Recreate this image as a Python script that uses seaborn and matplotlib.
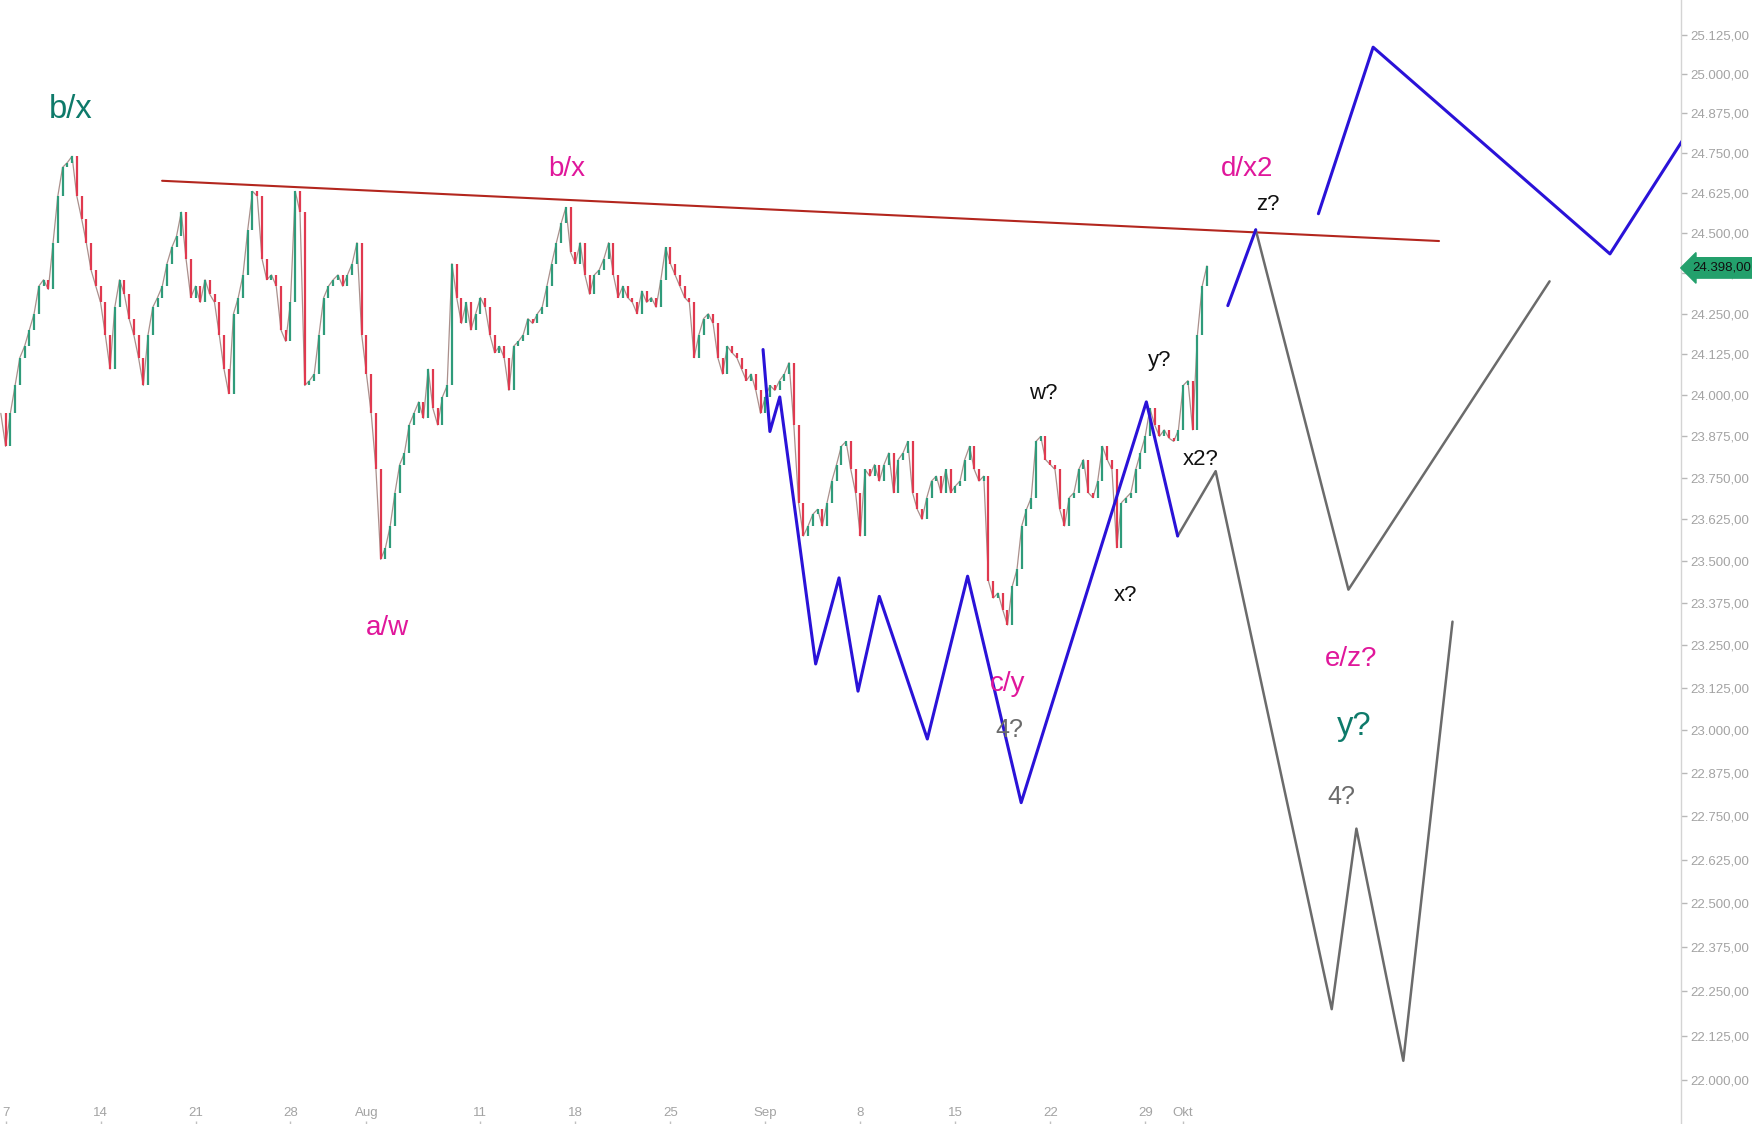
import numpy as np
import pandas as pd
import matplotlib
matplotlib.use("Agg")
import matplotlib.pyplot as plt
import matplotlib.transforms as mtransforms
from matplotlib.ticker import FixedLocator, FuncFormatter, NullLocator
import seaborn as sns

# ---------------- data ----------------
# closes of the intraday bars, 4 bars per trading day, first bar at day -0.25 (day 0 = Jul 7)
close_prices = [
    23945,
    23845, 23945, 24030, 24115,   # Jul 7
    24150, 24200, 24250, 24335,
    24355, 24325, 24470, 24615,
    24705, 24720, 24740, 24615,
    24545, 24470, 24385, 24335,
    24285, 24185, 24080, 24270,   # Jul 14
    24355, 24310, 24235, 24185,
    24115, 24030, 24185, 24270,
    24300, 24335, 24405, 24455,
    24490, 24565, 24420, 24300,
    24335, 24285, 24355, 24310,   # Jul 21
    24285, 24185, 24080, 24005,
    24250, 24300, 24370, 24510,
    24630, 24615, 24420, 24355,
    24370, 24335, 24200, 24165,
    24285, 24630, 24565, 24030,   # Jul 28
    24045, 24065, 24185, 24300,
    24335, 24355, 24370, 24335,
    24370, 24405, 24470, 24185,
    24065, 23945, 23775, 23505,   # Aug 1
    23540, 23605, 23705, 23790,
    23825, 23910, 23945, 23980,
    23930, 24080, 23960, 23910,
    23995, 24030, 24405, 24300,
    24220, 24285, 24200, 24250,
    24300, 24270, 24185, 24130,   # Aug 11
    24150, 24115, 24015, 24150,
    24165, 24185, 24235, 24220,
    24250, 24270, 24335, 24405,
    24470, 24530, 24580, 24440,
    24405, 24470, 24370, 24310,   # Aug 18
    24370, 24385, 24420, 24470,
    24370, 24300, 24335, 24300,
    24285, 24250, 24320, 24285,
    24300, 24270, 24355, 24455,
    24405, 24370, 24335, 24300,   # Aug 25
    24285, 24115, 24185, 24235,
    24250, 24220, 24115, 24065,
    24150, 24130, 24115, 24080,
    24045, 24065, 24015, 23945,
    23995, 24030, 24015, 24045,   # Sep 1
    24065, 24100, 23910, 23675,
    23575, 23605, 23640, 23655,
    23605, 23675, 23740, 23790,
    23845, 23860, 23775, 23705,
    23575, 23775, 23755, 23790,   # Sep 8
    23740, 23790, 23825, 23705,
    23805, 23825, 23860, 23705,
    23655, 23625, 23690, 23740,
    23755, 23705, 23775, 23705,
    23725, 23740, 23805, 23845,   # Sep 15
    23775, 23740, 23755, 23440,
    23390, 23405, 23355, 23310,
    23425, 23475, 23605, 23655,
    23690, 23860, 23875, 23805,
    23790, 23775, 23655, 23605,   # Sep 22
    23690, 23705, 23775, 23805,
    23705, 23690, 23740, 23845,
    23805, 23775, 23540, 23675,
    23690, 23705, 23775, 23825,
    23875, 23960, 23910, 23875,   # Sep 29
    23895, 23870, 23860, 23895,
    24030, 24045, 23895, 24185,   # Oct 1
    24335, 24398,
]
bars_per_day = 4
first_bar_day = -0.25
last_price = 24398

date_tick_days = [0, 5, 10, 15, 19, 25, 30, 35, 40, 45, 50, 55, 60, 62]
date_tick_labels = ["7", "14", "21", "28", "Aug", "11", "18", "25", "Sep",
                    "8", "15", "22", "29", "Okt"]
price_ticks = [22000 + 125 * i for i in range(27)]

# drawings (trading-day index, price)
trend_days = [8.24, 75.47]
trend_prices = [24663, 24475]

wave1_days = [39.88, 40.24, 40.76, 42.65, 43.88, 44.88, 46.0, 48.53, 50.65, 53.47, 60.06, 61.71]
wave1_prices = [24140, 23890, 23995, 23195, 23450, 23115, 23395, 22975, 23455, 22790, 23980, 23575]

wave2_days = [64.35, 65.82]
wave2_prices = [24275, 24510]

wave3_days = [69.12, 72.0, 84.47, 88.4]
wave3_prices = [24560, 25085, 24435, 24800]

grey1_days = [65.82, 70.7, 81.29]
grey1_prices = [24510, 23415, 24350]

grey2_days = [61.71, 63.71, 69.82, 71.12, 73.59, 76.18]
grey2_prices = [23575, 23770, 22200, 22715, 22055, 23320]

label_texts = ["b/x", "b/x", "a/w", "c/y", "4?", "w?", "y?", "x?", "x2?",
               "d/x2", "z?", "e/z?", "y?", "4?"]
label_days = [3.41, 29.53, 20.12, 52.76, 52.82, 54.65, 60.76, 58.94, 62.94,
              65.35, 66.47, 70.82, 71.0, 70.35]
label_prices = [24887, 24701, 23301, 23137, 23002, 24006, 24105, 23397, 23804,
                24701, 24589, 23209, 23012, 22807]
label_kinds = ["teal", "mag", "mag", "mag", "grey", "black", "black", "black", "black",
               "mag", "black", "mag", "teal", "grey"]

# ---------------- styling ----------------
sns.set_theme(style="white")
plt.rcParams["font.family"] = ["Liberation Sans", "DejaVu Sans"]

kind_color = {"teal": "#0e7a6a", "mag": "#e0179b", "grey": "#6b6b6b", "black": "#111111"}
kind_size = {"teal": 23.5, "mag": 20, "grey": 18, "black": 16}

fig = plt.figure(figsize=(17.52, 11.24), dpi=100)
fig.patch.set_facecolor("white")
ax = fig.add_axes([0, 0, 1681 / 1752, 1])
ax.set_facecolor("white")

# candles
closes = np.array(close_prices, dtype=float)
opens = np.r_[closes[0], closes[:-1]]
bar_x = first_bar_day + np.arange(len(closes)) / bars_per_day
up = closes >= opens
ax.plot(bar_x, closes, color="#8e6b66", lw=0.9, alpha=0.75, zorder=2)
ax.vlines(bar_x[up], opens[up], closes[up], color="#2f9b7a", lw=1.6, zorder=3)
ax.vlines(bar_x[~up], closes[~up], opens[~up], color="#e0394f", lw=1.6, zorder=3)

# wave drawings
def draw(days, prices, color, lw):
    df = pd.DataFrame({"day": days, "price": prices})
    sns.lineplot(data=df, x="day", y="price", ax=ax, color=color, lw=lw,
                 sort=False, estimator=None, zorder=4)

draw(trend_days, trend_prices, "#b3261e", 1.5)
draw(grey1_days, grey1_prices, "#6b6b6b", 1.8)
draw(grey2_days, grey2_prices, "#6b6b6b", 1.8)
draw(wave1_days, wave1_prices, "#2a12d8", 2.2)
draw(wave2_days, wave2_prices, "#2a12d8", 2.2)
draw(wave3_days, wave3_prices, "#2a12d8", 2.2)

for t, d, p, k in zip(label_texts, label_days, label_prices, label_kinds):
    ax.text(d, p, t, color=kind_color[k], fontsize=kind_size[k],
            ha="center", va="center", zorder=6)

# axes
ax.set_yscale("log")
ax.set_xlim(-0.294, 88.21)
ax.set_ylim(21878.6, 25235.8)
ax.set_xlabel("")
ax.set_ylabel("")


def de_fmt(v, pos=None):
    s = f"{v:,.2f}"
    return s.replace(",", "X").replace(".", ",").replace("X", ".")


ax.yaxis.set_major_locator(FixedLocator(price_ticks))
ax.yaxis.set_minor_locator(NullLocator())
ax.yaxis.set_major_formatter(FuncFormatter(de_fmt))
ax.yaxis.tick_right()
ax.tick_params(axis="y", which="major", direction="out", length=4, width=1,
               color="#b8b8b8", labelcolor="#a3a3a3", labelsize=9.5, pad=3,
               left=False, right=True, labelleft=False, labelright=True)

ax.xaxis.set_major_locator(FixedLocator(date_tick_days))
ax.set_xticklabels(date_tick_labels)
ax.xaxis.set_minor_locator(NullLocator())
ax.tick_params(axis="x", which="major", direction="in", length=2.5, width=1,
               color="#c0c0c0", labelcolor="#a3a3a3", labelsize=9.5, pad=-12.5,
               bottom=True, labelbottom=True)
for lab in ax.get_xticklabels():
    lab.set_fontfamily(["Liberation Sans Narrow", "Liberation Sans", "DejaVu Sans"])

for s in ["top", "left", "bottom"]:
    ax.spines[s].set_visible(False)
ax.spines["right"].set_color("#d4d4d4")
ax.spines["right"].set_linewidth(1)
ax.grid(False)

# last price tag (covers the 24.375 label, as in the reference)
trans = mtransforms.blended_transform_factory(ax.transAxes, ax.transData)
ax.annotate(de_fmt(last_price), xy=(1, last_price), xycoords=trans,
            xytext=(8, -1.5), textcoords="offset points", ha="left", va="center",
            fontsize=9.5, color="#111111", annotation_clip=False, zorder=10,
            bbox=dict(boxstyle="larrow,pad=0.32", fc="#23a06c", ec="#23a06c"))

fig.savefig("out.png", dpi=100, facecolor="white")
